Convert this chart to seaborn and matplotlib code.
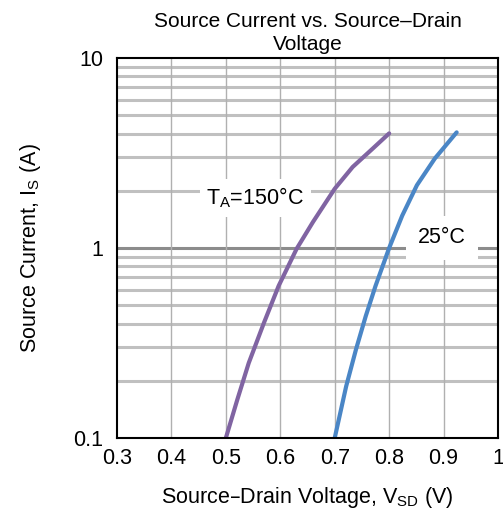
import numpy as np
import pandas as pd
import matplotlib
matplotlib.use("Agg")
import matplotlib.pyplot as plt
from matplotlib.ticker import FixedLocator, NullFormatter
import seaborn as sns

# curve readings
v_150 = [0.500, 0.521, 0.542, 0.570, 0.597, 0.630, 0.660, 0.700, 0.733, 0.770, 0.800]
i_150 = [0.100, 0.159, 0.248, 0.404, 0.632, 0.990, 1.37, 2.05, 2.67, 3.34, 4.01]
v_25 = [0.700, 0.721, 0.739, 0.757, 0.775, 0.800, 0.824, 0.851, 0.884, 0.924]
i_25 = [0.100, 0.187, 0.292, 0.438, 0.632, 1.00, 1.48, 2.14, 2.96, 4.06]
x_ticks = [0.3, 0.4, 0.5, 0.6, 0.7, 0.8, 0.9, 1.0]
x_ticklabels = ["0.3", "0.4", "0.5", "0.6", "0.7", "0.8", "0.9", "1"]
y_ticks = [0.1, 1, 10]
y_ticklabels = ["0.1", "1", "10"]

df = pd.concat([
    pd.DataFrame({"V": v_150, "I": i_150, "T": "150"}),
    pd.DataFrame({"V": v_25, "I": i_25, "T": "25"}),
])

sns.set_style("white")
plt.rcParams["font.family"] = ["Liberation Sans", "DejaVu Sans"]
plt.rcParams["text.color"] = "black"
plt.rcParams["axes.labelcolor"] = "black"
plt.rcParams["xtick.color"] = "black"
plt.rcParams["ytick.color"] = "black"

fig = plt.figure(figsize=(5.03, 5.11), dpi=100)
ax = fig.add_axes([0.2326, 0.1429, 0.7575, 0.7436])

# grid
minors = [m * 10.0 ** e for e in (-1, 0) for m in range(2, 10)]
for y in minors:
    ax.axhline(y, color="#c0c0c0", lw=2.2, zorder=1)
ax.axhline(1, color="#8c8c8c", lw=2.2, zorder=1)
for x in x_ticks[1:-1]:
    ax.axvline(x, color="#b0b0b0", lw=1.0, zorder=1)

sns.lineplot(data=df, x="V", y="I", hue="T",
             palette={"150": "#8064a2", "25": "#4a86c6"},
             lw=3.0, legend=False, sort=False, estimator=None, ax=ax, zorder=3)
for ln in ax.lines[-2:]:
    ln.set_solid_joinstyle("round")

ax.set_yscale("log")
ax.set_xlim(0.3, 1.0)
ax.set_ylim(0.1, 10)
ax.xaxis.set_major_locator(FixedLocator(x_ticks))
ax.set_xticklabels(x_ticklabels)
ax.yaxis.set_major_locator(FixedLocator(y_ticks))
ax.yaxis.set_minor_locator(FixedLocator(minors))
ax.yaxis.set_minor_formatter(NullFormatter())
ax.set_yticklabels(y_ticklabels)
ax.tick_params(axis="x", which="both", length=0, labelsize=15.5, pad=7, labelcolor="black")
ax.tick_params(axis="y", which="both", length=0, labelsize=15.5, pad=10, labelcolor="black")

for s in ax.spines.values():
    s.set_color("black")
    s.set_linewidth(1.5)
    s.set_zorder(5)

ax.text(0.554, 1.83, "T$_\\mathregular{A}$=150°C", fontsize=15.5, ha="center", va="center",
        color="black",
        bbox=dict(facecolor="white", edgecolor="none", boxstyle="square,pad=0.3"), zorder=4)
ax.text(0.897, 1.13, "25°C", fontsize=15.5, ha="center", va="center", color="black",
        bbox=dict(facecolor="white", edgecolor="none", boxstyle="square,pad=0.55"), zorder=4)

ax.set_title("Source Current vs. Source\u2013Drain\nVoltage", fontsize=15, pad=6,
             linespacing=1.25, color="black")
ax.set_xlabel("Source\u2013Drain Voltage, V$_\\mathregular{SD}$ (V)", fontsize=15.5, labelpad=12)
ax.set_ylabel("Source Current, I$_\\mathregular{S}$ (A)", fontsize=15.5, labelpad=22)

fig.savefig("out.png", dpi=100)
